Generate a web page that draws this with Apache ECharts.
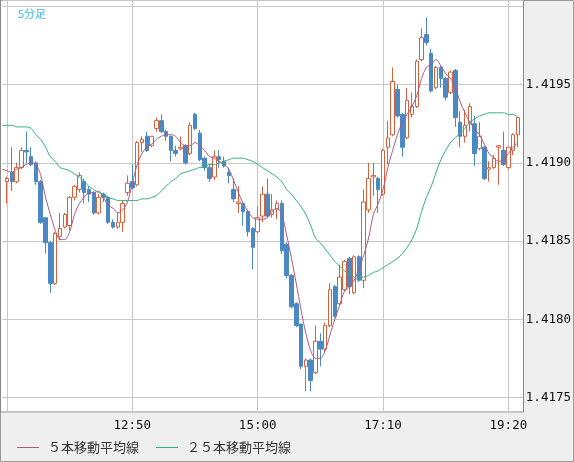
<!DOCTYPE html>
<html>
<head>
<meta charset="utf-8">
<script src="https://cdn.jsdelivr.net/npm/echarts@6/dist/echarts.min.js"></script>
<style>
  html, body { margin: 0; padding: 0; background: #efefef; }
  #chart { width: 574px; height: 462px; }
</style>
</head>
<body>
<div id="chart"></div>
<script>
// 5分足 ローソク足 10:40 - 19:30  [始値, 終値, 安値, 高値]
const candles = [
  [1.41888,1.41890,1.41874,1.41891],[1.41894,1.41888,1.41882,1.41910],[1.41888,1.41897,1.41887,1.41900],
  [1.41897,1.41908,1.41896,1.41910],[1.41908,1.41907,1.41900,1.41920],[1.41904,1.41899,1.41898,1.41910],
  [1.41900,1.41888,1.41886,1.41901],[1.41888,1.41862,1.41861,1.41889],[1.41865,1.41849,1.41842,1.41865],
  [1.41849,1.41823,1.41817,1.41850],[1.41823,1.41855,1.41822,1.41856],[1.41853,1.41858,1.41851,1.41868],
  [1.41859,1.41867,1.41858,1.41868],[1.41860,1.41878,1.41857,1.41879],[1.41878,1.41885,1.41876,1.41886],
  [1.41883,1.41892,1.41881,1.41894],[1.41888,1.41881,1.41874,1.41890],[1.41883,1.41880,1.41875,1.41885],
  [1.41881,1.41868,1.41867,1.41882],[1.41868,1.41878,1.41867,1.41880],[1.41880,1.41878,1.41875,1.41881],
  [1.41878,1.41862,1.41861,1.41879],[1.41862,1.41859,1.41858,1.41864],[1.41859,1.41862,1.41858,1.41868],
  [1.41862,1.41874,1.41856,1.41876],[1.41881,1.41887,1.41879,1.41892],[1.41888,1.41884,1.41883,1.41899],
  [1.41886,1.41913,1.41885,1.41914],[1.41913,1.41915,1.41907,1.41917],[1.41917,1.41908,1.41907,1.41920],
  [1.41911,1.41917,1.41910,1.41917],[1.41922,1.41927,1.41920,1.41929],[1.41927,1.41920,1.41919,1.41931],
  [1.41920,1.41917,1.41914,1.41921],[1.41917,1.41908,1.41901,1.41917],[1.41908,1.41906,1.41904,1.41911],
  [1.41909,1.41910,1.41908,1.41917],[1.41911,1.41900,1.41899,1.41912],[1.41906,1.41924,1.41905,1.41926],
  [1.41931,1.41922,1.41921,1.41932],[1.41919,1.41902,1.41901,1.41921],[1.41903,1.41897,1.41895,1.41904],
  [1.41897,1.41890,1.41888,1.41899],[1.41891,1.41904,1.41889,1.41908],[1.41904,1.41902,1.41897,1.41908],
  [1.41901,1.41898,1.41897,1.41904],[1.41894,1.41892,1.41887,1.41897],[1.41883,1.41877,1.41875,1.41890],
  [1.41874,1.41875,1.41868,1.41885],[1.41874,1.41869,1.41860,1.41875],[1.41869,1.41856,1.41853,1.41870],
  [1.41858,1.41846,1.41832,1.41859],[1.41856,1.41865,1.41855,1.41872],[1.41866,1.41880,1.41862,1.41885],
  [1.41880,1.41866,1.41865,1.41890],[1.41867,1.41870,1.41865,1.41880],[1.41870,1.41874,1.41864,1.41876],
  [1.41874,1.41844,1.41842,1.41876],[1.41848,1.41828,1.41826,1.41849],[1.41828,1.41808,1.41807,1.41829],
  [1.41810,1.41796,1.41795,1.41811],[1.41797,1.41770,1.41768,1.41797],[1.41770,1.41774,1.41754,1.41775],
  [1.41774,1.41761,1.41754,1.41775],[1.41766,1.41786,1.41765,1.41796],[1.41786,1.41781,1.41770,1.41791],
  [1.41781,1.41796,1.41779,1.41798],[1.41796,1.41819,1.41795,1.41823],[1.41821,1.41802,1.41801,1.41822],
  [1.41810,1.41827,1.41809,1.41835],[1.41819,1.41837,1.41818,1.41838],[1.41839,1.41821,1.41816,1.41840],
  [1.41817,1.41840,1.41816,1.41841],[1.41840,1.41825,1.41824,1.41841],[1.41825,1.41875,1.41820,1.41883],
  [1.41870,1.41890,1.41868,1.41900],[1.41891,1.41892,1.41879,1.41900],[1.41890,1.41883,1.41868,1.41891],
  [1.41880,1.41908,1.41879,1.41909],[1.41910,1.41916,1.41899,1.41927],[1.41918,1.41952,1.41917,1.41961],
  [1.41947,1.41930,1.41929,1.41950],[1.41931,1.41910,1.41904,1.41932],[1.41916,1.41940,1.41915,1.41948],
  [1.41931,1.41936,1.41929,1.41945],[1.41936,1.41965,1.41935,1.41966],[1.41966,1.41980,1.41965,1.41986],
  [1.41982,1.41977,1.41975,1.41993],[1.41970,1.41946,1.41945,1.41973],[1.41948,1.41961,1.41947,1.41962],
  [1.41961,1.41954,1.41948,1.41962],[1.41954,1.41942,1.41940,1.41955],[1.41945,1.41958,1.41944,1.41959],
  [1.41959,1.41929,1.41923,1.41960],[1.41926,1.41917,1.41910,1.41933],[1.41917,1.41924,1.41913,1.41934],
  [1.41925,1.41936,1.41920,1.41938],[1.41925,1.41906,1.41898,1.41930],[1.41909,1.41917,1.41908,1.41926],
  [1.41910,1.41890,1.41889,1.41911],[1.41896,1.41897,1.41888,1.41901],[1.41897,1.41903,1.41896,1.41905],
  [1.41910,1.41911,1.41886,1.41911],[1.41908,1.41899,1.41898,1.41920],[1.41897,1.41910,1.41896,1.41910],
  [1.41908,1.41918,1.41905,1.41919],[1.41918,1.41929,1.41910,1.41929]
]

// 移動平均 (10:35 から)
const ma5 = [
  1.41896,1.41895,1.41894,1.41896,1.41897,1.41899,1.41900,1.41899,1.41892,1.41878,
  1.41867,1.41857,1.41851,1.41851,1.41856,1.41867,1.41874,1.41878,1.41881,1.41881,
  1.41882,1.41878,1.41873,1.41871,1.41868,1.41870,1.41875,1.41887,1.41899,1.41906,
  1.41910,1.41912,1.41915,1.41917,1.41918,1.41918,1.41917,1.41913,1.41911,1.41911,
  1.41913,1.41911,1.41908,1.41904,1.41903,1.41901,1.41899,1.41896,1.41889,1.41881,
  1.41874,1.41869,1.41865,1.41864,1.41864,1.41865,1.41869,1.41871,1.41867,1.41854,
  1.41839,1.41823,1.41806,1.41791,1.41780,1.41775,1.41775,1.41780,1.41790,1.41800,
  1.41809,1.41818,1.41821,1.41825,1.41832,1.41841,1.41852,1.41867,1.41874,1.41883,
  1.41897,1.41908,1.41918,1.41926,1.41931,1.41936,1.41943,1.41954,1.41961,1.41963,
  1.41966,1.41962,1.41957,1.41954,1.41948,1.41939,1.41932,1.41926,1.41922,1.41918,
  1.41912,1.41906,1.41903,1.41901,1.41902,1.41906,1.41910,1.41913
]
const ma25 = [
  1.41924,1.41924,1.41924,1.41923,1.41923,1.41923,1.41922,1.41918,1.41915,1.41910,
  1.41904,1.41901,1.41897,1.41896,1.41895,1.41893,1.41891,1.41888,1.41885,1.41883,
  1.41881,1.41880,1.41878,1.41877,1.41876,1.41876,1.41876,1.41876,1.41876,1.41877,
  1.41877,1.41878,1.41879,1.41882,1.41885,1.41888,1.41890,1.41893,1.41894,1.41895,
  1.41896,1.41897,1.41897,1.41899,1.41899,1.41900,1.41901,1.41902,1.41903,1.41903,
  1.41903,1.41902,1.41901,1.41899,1.41897,1.41895,1.41893,1.41891,1.41888,1.41883,
  1.41880,1.41876,1.41872,1.41867,1.41860,1.41852,1.41849,1.41845,1.41841,1.41837,
  1.41834,1.41831,1.41829,1.41827,1.41826,1.41827,1.41828,1.41830,1.41831,1.41833,
  1.41835,1.41837,1.41839,1.41842,1.41846,1.41851,1.41858,1.41869,1.41878,1.41885,
  1.41894,1.41902,1.41908,1.41913,1.41916,1.41919,1.41922,1.41926,1.41928,1.41930,
  1.41931,1.41932,1.41932,1.41932,1.41932,1.41931,1.41931,1.41929
]

const yLabels = ['1.4175', '1.4180', '1.4185', '1.4190', '1.4195']
const xLabels = ['12:50', '15:00', '17:10', '19:20']
const gridTimes = ['10:40', '12:50', '15:00', '17:10', '19:20']

// 10:35 〜 19:35 の5分刻み
const times = []
for (let m = 10 * 60 + 35; m <= 19 * 60 + 35; m += 5) {
  times.push(Math.floor(m / 60) + ':' + String(m % 60).padStart(2, '0'))
}
const candleData = ['-'].concat(candles).concat(['-'])

const chart = echarts.init(document.getElementById('chart'), null, {renderer: 'canvas'})

const option = {
  animation: false,
  backgroundColor: '#efefef',
  title: {
    text: '5分足',
    left: 13,
    top: 3,
    textStyle: {fontSize: 11, fontWeight: 'normal', color: '#3db8ec', fontFamily: 'Noto Sans CJK JP'}
  },
  graphic: [
    {type: 'rect', z: -10, silent: true,
      shape: {x: 0.5, y: 0.5, width: 523, height: 411.5},
      style: {fill: '#ffffff', stroke: '#8a8a8a', lineWidth: 1}},
    {type: 'rect', z: -11, silent: true,
      shape: {x: 0.5, y: 0.5, width: 573, height: 461},
      style: {fill: 'none', stroke: '#9a9a9a', lineWidth: 1}}
  ],
  legend: {
    left: 12,
    top: 436,
    itemWidth: 22,
    itemHeight: 1,
    itemGap: 17,
    icon: 'rect',
    textStyle: {fontSize: 13, color: '#333', fontFamily: 'Noto Sans CJK JP', padding: [0, 0, 0, 4]},
    data: ['５本移動平均線', '２５本移動平均線']
  },
  grid: {left: 2.16, top: 0, width: 522.3, height: 412, containLabel: false},
  xAxis: {
    type: 'category',
    data: times,
    boundaryGap: false,
    axisLine: {show: false},
    axisTick: {show: false},
    axisLabel: {
      interval: (i, v) => xLabels.includes(v),
      margin: 7,
      color: '#111',
      fontSize: 12.5,
      fontFamily: 'DejaVu Sans Mono'
    },
    splitLine: {
      show: true,
      interval: (i, v) => gridTimes.includes(v),
      lineStyle: {color: '#c8c8c8', width: 1}
    }
  },
  yAxis: {
    type: 'value',
    position: 'right',
    scale: true,
    min: 1.417408,
    max: 1.420041,
    splitNumber: 5,
    axisLine: {show: false},
    axisTick: {show: false},
    axisLabel: {
      margin: 3,
      color: '#111',
      fontSize: 12.5,
      fontFamily: 'DejaVu Sans Mono',
      formatter: v => {
        const s = v.toFixed(4)
        return (yLabels.includes(s) && Math.abs(v - Number(s)) < 1e-7) ? s : ''
      }
    },
    splitLine: {lineStyle: {color: '#c8c8c8', width: 1}}
  },
  series: [
    {
      name: '5分足',
      type: 'candlestick',
      data: candleData,
      barWidth: 4,
      itemStyle: {
        color: '#ffffff',
        borderColor: '#d9603b',
        color0: '#4a89c3',
        borderColor0: '#4a89c3',
        borderWidth: 1
      }
    },
    {
      name: '５本移動平均線',
      type: 'line',
      data: ma5,
      showSymbol: false,
      smooth: 0.3,
      color: '#b0587f',
      lineStyle: {width: 1, color: '#b0587f'}
    },
    {
      name: '２５本移動平均線',
      type: 'line',
      data: ma25,
      showSymbol: false,
      smooth: 0.3,
      color: '#2fb27c',
      lineStyle: {width: 1, color: '#2fb27c'}
    }
  ]
}

chart.setOption(option)
</script>
</body>
</html>
